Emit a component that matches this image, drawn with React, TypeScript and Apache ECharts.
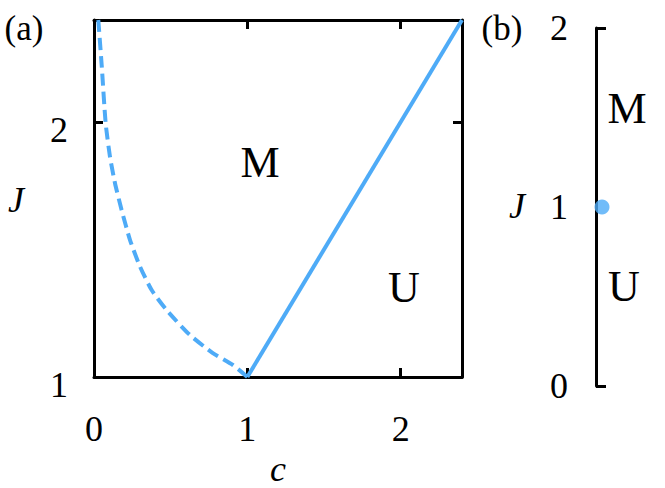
import React, { useEffect, useRef } from "react";
import * as echarts from "echarts";

// Panel (a): dashed boundary (c, J)
const dashedC = [0.028, 0.05, 0.076, 0.104, 0.137, 0.18, 0.235, 0.3, 0.376, 0.474, 0.625, 0.775, 0.906, 1.0];
const dashedJ = [2.4, 2.224, 1.995, 1.865, 1.76, 1.655, 1.537, 1.433, 1.341, 1.262, 1.165, 1.094, 1.047, 1.0];
// Panel (a): solid boundary J = c
const solidC = [1.0, 2.4];
const solidJ = [1.0, 2.4];
// Panel (b): critical point
const pointJ = [1.0];

const xTickLabels = [0, 1, 2];
const yTickLabels = [1, 2];
const bTickLabels = [0, 1, 2];
const bTicks = [0, 2];

const BLUE = "#4eabf7";
const FONT = "Liberation Serif";

export default function App() {
  const ref = useRef<HTMLDivElement>(null);
  useEffect(() => {
    if (!ref.current) return;
    const chart = echarts.init(ref.current, undefined, { renderer: "svg" });
    const axisLine = { show: true, onZero: false, lineStyle: { color: "#000", width: 3 } };
    const tick = (len = 9, extra: any = {}) => ({
      show: true,
      inside: true,
      length: len,
      lineStyle: { color: "#000", width: 3 },
      ...extra,
    });
    const label = (vals: number[], extra: any = {}) => ({
      show: true,
      customValues: vals,
      color: "#000",
      fontSize: 36,
      fontFamily: FONT,
      ...extra,
    });
    const txt = (text: string, x: number, y: number, size: number, italic = false, va = "middle") => ({
      type: "text",
      x,
      y,
      style: {
        text,
        fill: "#000",
        fontSize: size,
        fontFamily: FONT,
        fontStyle: italic ? "italic" : "normal",
        textAlign: "center",
        textVerticalAlign: va,
      },
    });
    chart.setOption({
      animation: false,
      backgroundColor: "#fff",
      grid: [
        { left: 94, top: 20, width: 368, height: 357 },
        { left: 596, top: 28, width: 30, height: 358 },
      ],
      xAxis: [
        {
          gridIndex: 0, type: "value", min: 0, max: 2.4, interval: 1, position: "bottom",
          axisLine, axisTick: tick(), splitLine: { show: false },
          axisLabel: label(xTickLabels, { margin: 34 }),
        },
        {
          gridIndex: 0, type: "value", min: 0, max: 2.4, interval: 1, position: "top",
          axisLine, axisTick: tick(), splitLine: { show: false },
          axisLabel: { show: false },
        },
        { gridIndex: 1, type: "value", min: 0, max: 1, show: false },
      ],
      yAxis: [
        {
          gridIndex: 0, type: "value", min: 1, max: 2.4, interval: 1, position: "left",
          axisLine, axisTick: tick(), splitLine: { show: false },
          axisLabel: label(yTickLabels, {
            margin: 26,
            formatter: "{v|{value}}",
            rich: { v: { fontSize: 36, fontFamily: FONT, color: "#000", padding: [16, 0, 0, 0] } },
          }),
        },
        {
          gridIndex: 0, type: "value", min: 1, max: 2.4, interval: 1, position: "right",
          axisLine, axisTick: tick(), splitLine: { show: false },
          axisLabel: { show: false },
        },
        {
          gridIndex: 1, type: "value", min: 0, max: 2, interval: 1, position: "left",
          axisLine, axisTick: tick(10, { customValues: bTicks }), splitLine: { show: false },
          axisLabel: label(bTickLabels, { margin: 28 }),
        },
      ],
      series: [
        {
          type: "line", xAxisIndex: 0, yAxisIndex: 0, smooth: 0.2, symbol: "none",
          lineStyle: { color: BLUE, width: 4, type: [12, 6] },
          data: dashedC.map((c, i) => [c, dashedJ[i]]),
        },
        {
          type: "line", xAxisIndex: 0, yAxisIndex: 0, symbol: "none",
          lineStyle: { color: BLUE, width: 4 },
          data: solidC.map((c, i) => [c, solidJ[i]]),
        },
        {
          type: "scatter", xAxisIndex: 2, yAxisIndex: 2, symbolSize: 15, z: 10,
          itemStyle: { color: BLUE },
          data: pointJ.map((j) => [0.2, j]),
        },
      ],
      graphic: [
        txt("(a)", 24, 28, 35),
        txt("(b)", 502, 28, 35),
        txt("J", 16, 200, 36, true),
        txt("J", 517, 206, 36, true),
        txt("c", 278, 487, 36, true, "bottom"),
        txt("M", 260, 162, 44),
        txt("U", 404, 287, 44),
        txt("M", 627, 108, 44),
        txt("U", 624, 286, 44),
      ],
    });
    return () => chart.dispose();
  }, []);
  return (
    <div
      ref={ref}
      style={{ position: "fixed", left: 0, top: 0, width: 665, height: 488, background: "#fff" }}
    />
  );
}
